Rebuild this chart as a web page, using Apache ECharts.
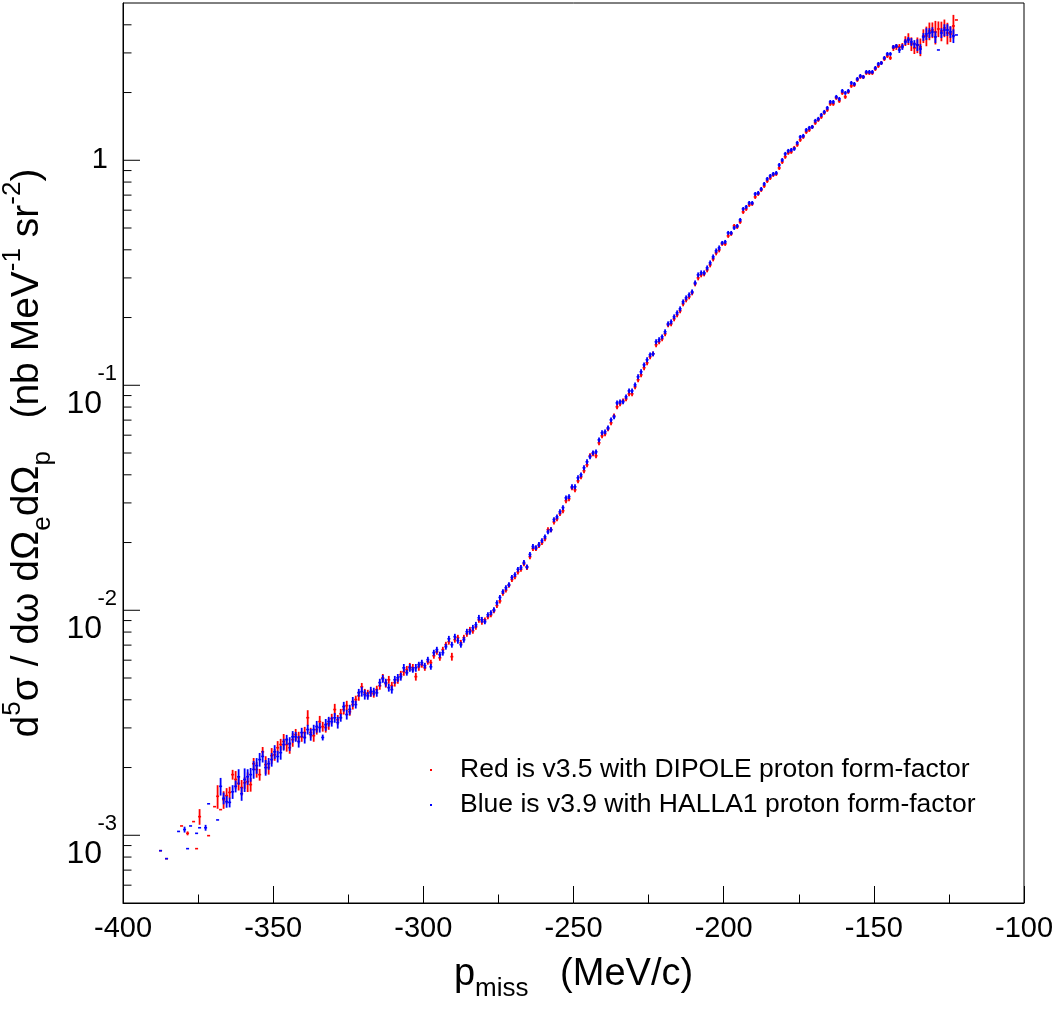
<!DOCTYPE html>
<html><head><meta charset="utf-8">
<script src="https://cdn.jsdelivr.net/npm/echarts@6/dist/echarts.min.js"></script>
<style>html,body{margin:0;padding:0;background:#fff}#chart{width:1059px;height:1015px}</style>
</head><body><div id="chart"></div>
<script>
// Histogram bins: 1 MeV/c wide, first bin lower edge at -388 (266 bins up to -122)
const binStart = -388;
const binWidth = 1;

const redName = 'Red is v3.5 with DIPOLE proton form-factor';
const blueName = 'Blue is v3.9 with HALLA1 proton form-factor';

// d5sigma values (nb MeV^-1 sr^-2), one per bin, null = empty bin
const redValues = [
 8.54e-4,null,7.87e-4,null,null,null,null,1.10e-3,null,1.02e-3,
 null,1.15e-3,8.72e-4,1.21e-3,null,null,9.96e-4,null,1.34e-3,1.49e-3,
 1.30e-3,1.44e-3,1.50e-3,1.55e-3,1.86e-3,1.77e-3,1.70e-3,1.63e-3,1.71e-3,1.73e-3,
 1.68e-3,2.08e-3,1.96e-3,1.86e-3,2.35e-3,2.06e-3,2.00e-3,2.26e-3,2.28e-3,2.45e-3,
 2.53e-3,2.61e-3,2.53e-3,2.45e-3,2.66e-3,2.80e-3,2.72e-3,2.74e-3,2.86e-3,3.33e-3,
 2.86e-3,2.77e-3,2.95e-3,3.20e-3,3.04e-3,3.01e-3,3.13e-3,3.30e-3,3.62e-3,3.26e-3,
 3.47e-3,3.62e-3,3.77e-3,3.54e-3,3.81e-3,4.01e-3,4.17e-3,4.57e-3,4.30e-3,4.26e-3,
 4.30e-3,4.26e-3,4.44e-3,4.62e-3,5.01e-3,4.72e-3,4.91e-3,4.62e-3,4.77e-3,4.91e-3,
 5.17e-3,5.33e-3,5.44e-3,5.61e-3,5.55e-3,5.07e-3,5.61e-3,5.73e-3,5.55e-3,5.91e-3,
 5.85e-3,6.28e-3,6.54e-3,6.15e-3,6.68e-3,7.03e-3,7.25e-3,6.22e-3,7.40e-3,7.55e-3,
 7.17e-3,7.55e-3,7.86e-3,8.19e-3,8.11e-3,8.45e-3,9.07e-3,8.89e-3,9.07e-3,9.36e-3,
 9.55e-3,9.95e-3,1.05e-2,1.10e-2,1.19e-2,1.23e-2,1.29e-2,1.37e-2,1.41e-2,1.48e-2,
 1.52e-2,1.61e-2,1.55e-2,1.73e-2,1.88e-2,1.88e-2,1.94e-2,2.00e-2,2.08e-2,2.28e-2,
 2.28e-2,2.47e-2,2.55e-2,2.69e-2,2.77e-2,3.07e-2,3.13e-2,3.50e-2,3.43e-2,3.76e-2,
 3.92e-2,4.17e-2,4.43e-2,4.86e-2,4.96e-2,4.86e-2,5.55e-2,5.96e-2,6.09e-2,6.40e-2,
 6.81e-2,7.31e-2,8.02e-2,8.27e-2,8.53e-2,8.70e-2,9.16e-2,9.16e-2,9.84e-2,0.1058,
 0.1113,0.1197,0.1259,0.1339,0.1380,0.1514,0.1561,0.1609,0.1694,0.1857,
 0.1876,0.1974,0.2057,0.2143,0.2301,0.2397,0.2472,0.2575,0.2823,0.3002,
 0.3096,0.3128,0.3258,0.3429,0.3646,0.3877,0.3997,0.4250,0.4250,0.4612,
 0.4708,0.5108,0.5057,0.5322,0.5895,0.6079,0.6332,0.6398,0.6872,0.7086,
 0.7382,0.7690,0.8093,0.8345,0.8605,0.8694,0.9243,0.9828,1.036,1.079,
 1.090,1.135,1.171,1.232,1.270,1.337,1.364,1.407,1.466,1.512,
 1.559,1.624,1.675,1.781,1.781,1.893,1.836,1.992,1.913,2.013,
 2.141,2.162,2.276,2.347,2.347,2.444,2.444,2.444,2.546,2.626,
 2.707,2.820,2.908,2.849,3.156,3.189,3.189,3.222,3.390,3.461,
 3.288,3.156,3.254,3.189,3.569,3.569,3.755,3.794,3.717,3.833,
 3.755,3.873,3.679,3.642,3.953,4.203
];
// relative error of each red bin, percent
const redErrPct = [
 0,0,0,0,0,0,0,0,0,2,
 0,0,0,8,0,0,0,0,0,12,
 0,9,8,6,5,9,7,8,6,10,
 7,6,8,6,5,9,7,8,6,7,
 6,8,7,6,7,6,6,5,6,8,
 5,6,5,6,5,5,6,5,6,5,
 5,5,5,4,5,4,5,4,4,4,
 4,4,4,4,4,4,4,4,4,4,
 4,4,4,4,4,4,4,3,3,3,
 3,3,3,3,3,3,3,4,3,3,
 3,3,3,3,3,3,3,3,2.5,2.5,
 2.5,2.5,2.5,2.5,2.5,2.5,2.5,2.5,2.5,2.5,
 2.5,2.5,2.5,2.5,2.5,2.5,2.5,2.5,2.5,2.5,
 2.5,2.5,2.5,2.5,2.5,2.5,2.5,2.5,2.5,2.5,
 2.5,2.5,2.5,2.5,2.5,2.5,2.5,2.5,2.5,2.5,
 2.5,2.5,2.5,2.5,2.5,2.5,2.5,2.5,2.5,2.5,
 2.5,2.5,2.5,2.5,2.5,2.5,2.5,2.5,2.5,2.5,
 2.5,2.5,2.5,2.5,2.5,2.5,2.5,2.5,2.5,2.5,
 2.5,2.5,2.5,2.5,2.5,2.5,2.5,2,2,2,
 2,2,2,2,2,2,2,2,2,2,
 2,2,2,2,2,2,2,2,2,2,
 2,2,2,2,2,2,2,2,2,2,
 2,2,2,2,2,2,2,2,2,2,
 2,2,2,2,2,2,2,2,2,2,
 2,2,2,2,3,3,3,3,5,6,
 7,6,8,9,7,10,9,8,12,8,
 10,9,11,8,12,0
];
const blueValues = [
 8.54e-4,null,7.87e-4,null,null,null,1.04e-3,null,1.06e-3,8.72e-4,
 1.10e-3,null,1.02e-3,1.08e-3,null,1.08e-3,1.38e-3,null,null,1.17e-3,
 1.65e-3,1.46e-3,1.41e-3,1.40e-3,1.56e-3,1.65e-3,1.82e-3,1.53e-3,1.77e-3,1.82e-3,
 1.86e-3,1.96e-3,2.04e-3,2.17e-3,2.24e-3,2.00e-3,2.08e-3,2.17e-3,2.35e-3,2.24e-3,
 2.33e-3,2.53e-3,2.66e-3,2.55e-3,2.74e-3,2.74e-3,2.61e-3,2.86e-3,2.72e-3,2.95e-3,
 2.80e-3,2.95e-3,3.04e-3,3.01e-3,2.72e-3,3.10e-3,3.20e-3,3.20e-3,3.33e-3,3.17e-3,
 3.33e-3,3.73e-3,3.44e-3,3.62e-3,3.92e-3,3.81e-3,4.30e-3,4.35e-3,4.22e-3,4.17e-3,
 4.35e-3,4.35e-3,4.30e-3,4.77e-3,4.96e-3,4.77e-3,4.53e-3,4.44e-3,4.91e-3,5.01e-3,
 5.07e-3,5.55e-3,5.28e-3,5.55e-3,5.44e-3,5.55e-3,5.73e-3,5.85e-3,5.67e-3,6.03e-3,
 5.61e-3,6.48e-3,6.68e-3,6.35e-3,6.48e-3,6.89e-3,7.47e-3,7.03e-3,7.63e-3,7.32e-3,
 7.03e-3,7.40e-3,8.03e-3,8.03e-3,8.36e-3,8.62e-3,9.26e-3,9.07e-3,8.89e-3,9.55e-3,
 9.75e-3,1.005e-2,1.08e-2,1.14e-2,1.21e-2,1.26e-2,1.30e-2,1.40e-2,1.44e-2,1.52e-2,
 1.55e-2,1.63e-2,1.56e-2,1.77e-2,1.92e-2,1.90e-2,1.96e-2,2.04e-2,2.12e-2,2.23e-2,
 2.28e-2,2.53e-2,2.60e-2,2.74e-2,2.86e-2,3.16e-2,3.20e-2,3.54e-2,3.54e-2,3.88e-2,
 4.00e-2,4.30e-2,4.57e-2,4.81e-2,5.01e-2,5.06e-2,5.72e-2,6.15e-2,6.21e-2,6.47e-2,
 7.02e-2,7.24e-2,8.35e-2,8.44e-2,8.44e-2,8.88e-2,9.44e-2,9.44e-2,0.1004,0.1091,
 0.1148,0.1233,0.1298,0.1366,0.1380,0.1561,0.1593,0.1642,0.1729,0.1876,
 0.1914,0.2015,0.2099,0.2187,0.2349,0.2447,0.2523,0.2601,0.2852,0.3096,
 0.3160,0.3160,0.3325,0.3500,0.3721,0.3957,0.4080,0.4294,0.4338,0.4756,
 0.4756,0.5005,0.5108,0.5432,0.6079,0.6204,0.6463,0.6463,0.7086,0.7159,
 0.7458,0.7849,0.8260,0.8517,0.8694,0.8783,0.9531,1.003,1.068,1.101,
 1.112,1.124,1.195,1.270,1.284,1.364,1.393,1.407,1.497,1.528,
 1.591,1.641,1.709,1.817,1.817,1.913,1.874,2.033,1.992,2.033,
 2.207,2.184,2.299,2.371,2.347,2.469,2.469,2.469,2.572,2.680,
 2.707,2.849,2.968,2.968,3.189,3.222,3.092,3.189,3.356,3.426,
 3.356,3.288,3.254,3.124,3.533,3.642,3.679,3.717,3.533,3.092,
 3.679,3.794,3.794,3.717,3.569,3.605
];
// relative error of each blue bin, percent
const blueErrPct = [
 0,0,0,0,0,0,0,0,3,0,
 0,0,0,0,0,3,0,0,0,0,
 9,6,6,5,7,6,8,7,12,8,
 7,9,8,7,6,8,6,7,7,6,
 7,6,5,7,6,5,6,5,6,5,
 6,5,6,5,3,6,5,5,5,6,
 4,5,5,5,5,4,4,5,5,4,
 5,4,4,4,4,4,4,4,4,4,
 4,4,3,4,3,4,3,3,3,3,
 3,3,3,3,3,3,3,3,3,3,
 3,3,3,3,3,3,3,3,2.5,2.5,
 2.5,2.5,2.5,2.5,2.5,2.5,2.5,2.5,2.5,2.5,
 2.5,2.5,2.5,2.5,2.5,2.5,2.5,2.5,2.5,2.5,
 2.5,2.5,2.5,2.5,2.5,2.5,2.5,2.5,2.5,2.5,
 2.5,2.5,2.5,2.5,2.5,2.5,2.5,2.5,2.5,2.5,
 2.5,2.5,2.5,2.5,2.5,2.5,2.5,2.5,2.5,2.5,
 2.5,2.5,2.5,2.5,2.5,2.5,2.5,2.5,2.5,2.5,
 2.5,2.5,2.5,2.5,2.5,2.5,2.5,2.5,2.5,2.5,
 2.5,2.5,2.5,2.5,2.5,2.5,2.5,2,2,2,
 2,2,2,2,2,2,2,2,2,2,
 2,2,2,2,2,2,2,2,2,2,
 2,2,2,2,2,2,2,2,2,2,
 2,2,2,2,2,2,2,2,2,2,
 2,2,2,2,2,2,2,2,2,2,
 2,2,2,2,2,2,3,3,3,3,
 4,4,6,5,4,6,5,5,6,0,
 5,6,6,6,7,0
];

// axes
const xMin = -400, xMax = -100, xStep = 50;
const yMin = 5e-4, yMax = 5;
const yMajorTicks = [1e-3, 1e-2, 1e-1, 1];
const yMajorLabels = {'-3': ['10', '-3'], '-2': ['10', '-2'], '-1': ['10', '-1'], '0': ['1', '']};
const yMinorTicks = [6e-4,7e-4,8e-4,9e-4,
  2e-3,3e-3,4e-3,5e-3,6e-3,7e-3,8e-3,9e-3,
  2e-2,3e-2,4e-2,5e-2,6e-2,7e-2,8e-2,9e-2,
  0.2,0.3,0.4,0.5,0.6,0.7,0.8,0.9,
  2,3,4];

const FONT = "'Liberation Sans', Arial, Helvetica, sans-serif";

function buildData(values, errPct) {
  const out = [];
  values.forEach((v, i) => {
    if (v === null) return;
    out.push([binStart + (i + 0.5) * binWidth, v, v * errPct[i] / 100]);
  });
  return out;
}

function errorBarRenderer(color) {
  return function (params, api) {
    const x = api.value(0), y = api.value(1), e = api.value(2);
    const h = binWidth / 2;
    const pL = api.coord([x - h, y]);
    const pR = api.coord([x + h, y]);
    const children = [{
      type: 'line',
      shape: {x1: pL[0], y1: pL[1], x2: pR[0], y2: pR[1]},
      style: {stroke: color, lineWidth: 1.6}
    }];
    if (e > 0) {
      const pT = api.coord([x, y + e]);
      const pB = api.coord([x, y - e]);
      children.push({
        type: 'line',
        shape: {x1: pT[0], y1: pT[1], x2: pB[0], y2: pB[1]},
        style: {stroke: color, lineWidth: 1.8}
      });
    }
    return {type: 'group', children};
  };
}

function yTickRenderer(len) {
  return function (params, api) {
    const p = api.coord([xMin, api.value(0)]);
    return {
      type: 'line',
      shape: {x1: p[0], y1: p[1], x2: p[0] + len, y2: p[1]},
      style: {stroke: '#000', lineWidth: 1}
    };
  };
}

const chart = echarts.init(document.getElementById('chart'), null, {renderer: 'canvas'});
chart.setOption({
  animation: false,
  backgroundColor: '#fff',
  textStyle: {fontFamily: FONT, color: '#000'},
  grid: {left: 123, right: 35, top: 3, bottom: 112, show: true, borderColor: '#000', borderWidth: 1,
         containLabel: false, outerBoundsMode: 'none'},
  legend: {
    data: [redName, blueName],
    orient: 'vertical',
    left: 425, top: 751,
    itemWidth: 2, itemHeight: 2, icon: 'rect',
    itemGap: 7,
    textStyle: {fontFamily: FONT, fontSize: 26.5, lineHeight: 28, color: '#000', padding: [0, 0, 0, 23]},
    selectedMode: false
  },
  xAxis: {
    type: 'value', min: xMin, max: xMax, interval: xStep,
    axisLine: {show: true, lineStyle: {color: '#000', width: 1}},
    axisTick: {show: true, inside: true, length: 17, lineStyle: {color: '#000'}},
    minorTick: {show: true, splitNumber: 2, length: 8.5, lineStyle: {color: '#000'}},
    splitLine: {show: false},
    axisLabel: {fontFamily: FONT, fontSize: 29, color: '#000', margin: 11},
    name: 'p{sub|miss}   (MeV/c)',
    nameLocation: 'middle',
    nameGap: 43,
    nameTextStyle: {
      fontFamily: FONT, fontSize: 38, color: '#000', lineHeight: 54,
      rich: {
        sub: {fontFamily: FONT, fontSize: 26, lineHeight: 26, verticalAlign: 'bottom', color: '#000'}
      }
    }
  },
  yAxis: {
    type: 'log', logBase: 10, min: yMin, max: yMax,
    axisLine: {show: true, lineStyle: {color: '#000', width: 1}},
    axisTick: {show: false},
    minorTick: {show: false},
    splitLine: {show: false},
    axisLabel: {
      showMinLabel: false, showMaxLabel: false,
      margin: 6,
      fontFamily: FONT, fontSize: 29, color: '#000',
      formatter: function (v) {
        const n = String(Math.round(Math.log10(v)));
        const lab = yMajorLabels[n];
        if (!lab) return '';
        if (!lab[1]) return '{one|' + lab[0] + '}';
        return '{e|' + lab[1] + '}\n{b|' + lab[0] + '}';
      },
      rich: {
        one: {fontFamily: FONT, fontSize: 29, lineHeight: 30, padding: [0, 9, 0, 0]},
        e: {fontFamily: FONT, fontSize: 22, lineHeight: 22, padding: [8, 0, 0, 0]},
        b: {fontFamily: FONT, fontSize: 32, lineHeight: 30, padding: [15, 15, 0, 0]}
      }
    },
    name: 'd{sup|5}σ / dω dΩ{sub|e}dΩ{sub|p}   (nb MeV{sup|-1} sr{sup|-2})',
    nameLocation: 'middle',
    nameRotate: 90,
    nameGap: 49,
    nameTextStyle: {
      fontFamily: FONT, fontSize: 39, color: '#000', lineHeight: 56,
      rich: {
        sup: {fontFamily: FONT, fontSize: 26, lineHeight: 26, verticalAlign: 'top', color: '#000'},
        sub: {fontFamily: FONT, fontSize: 26, lineHeight: 26, verticalAlign: 'bottom', color: '#000'}
      }
    }
  },
  series: [
    {
      name: redName, type: 'custom',
      itemStyle: {color: '#ff0000'},
      renderItem: errorBarRenderer('#ff0000'),
      data: buildData(redValues, redErrPct),
      clip: true, z: 2
    },
    {
      name: blueName, type: 'custom',
      itemStyle: {color: '#0000ff'},
      renderItem: errorBarRenderer('#0000ff'),
      data: buildData(blueValues, blueErrPct),
      clip: true, z: 3
    },
    {
      name: 'yMajor', type: 'custom', silent: true,
      renderItem: yTickRenderer(17),
      data: yMajorTicks.map(v => [v]),
      encode: {y: 0}, z: 4
    },
    {
      name: 'yMinor', type: 'custom', silent: true,
      renderItem: yTickRenderer(8.5),
      data: yMinorTicks.map(v => [v]),
      encode: {y: 0}, z: 4
    }
  ]
});
</script>
</body></html>
